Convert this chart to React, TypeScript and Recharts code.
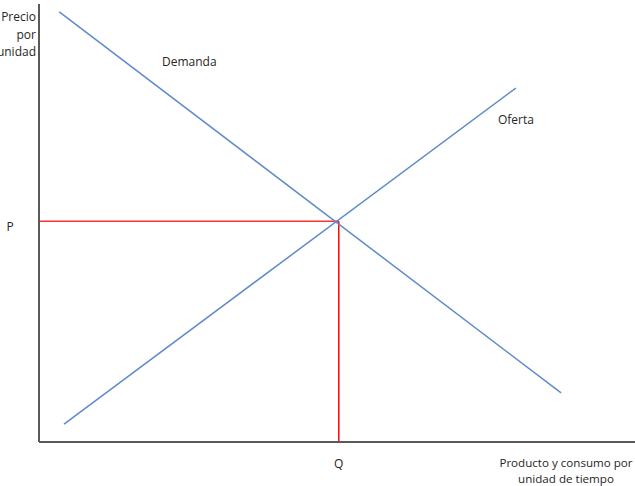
import React from "react";
import {
  ComposedChart,
  Line,
  XAxis,
  YAxis,
  ReferenceLine,
  Customized,
} from "recharts";

// quantities / prices in arbitrary units (0..100 on both axes)
const demandQty = [3.4, 87.6];
const demandPrice = [98.2, 11.2];
const supplyQty = [4.2, 80.0];
const supplyPrice = [4.1, 80.8];
const eqQty = 50.3;
const eqPrice = 50.4;

const demandData = demandQty.map((q, i) => ({ q, p: demandPrice[i] }));
const supplyData = supplyQty.map((q, i) => ({ q, p: supplyPrice[i] }));

const FONT = "'Open Sans', 'Liberation Sans', sans-serif";
const TEXT = "#262626";
const BLUE = "#5f8aca";
const AXIS = "#5a5a5a";

const XTick = (props: any) => {
  const { x, y } = props;
  return (
    <text x={x} y={y + 18} textAnchor="middle" fontSize={12} fill={TEXT} fontFamily={FONT}>
      Q
    </text>
  );
};

const YTick = (props: any) => {
  const { y } = props;
  return (
    <text x={10} y={y + 10} textAnchor="middle" fontSize={12} fill={TEXT} fontFamily={FONT}>
      P
    </text>
  );
};

const Labels = () => (
  <g fontFamily={FONT} fontSize={12} fill={TEXT}>
    <text x={36} y={21} textAnchor="end">Precio</text>
    <text x={36} y={39} textAnchor="end">por</text>
    <text x={36} y={56} textAnchor="end">unidad</text>
    <text x={162} y={66}>Demanda</text>
    <text x={498} y={124}>Oferta</text>
    <text x={566} y={467} textAnchor="middle" fontSize={11.6}>Producto y consumo por</text>
    <text x={566} y={483} textAnchor="middle" fontSize={11.6}>unidad de tiempo</text>
  </g>
);

export default function App() {
  return (
    <div style={{ position: "absolute", left: 0, top: 0, width: 635, height: 486, background: "#fff" }}>
      <ComposedChart width={635} height={486} margin={{ top: 4, right: 0, left: 0, bottom: 0 }}>
        <XAxis
          type="number"
          dataKey="q"
          domain={[0, 100]}
          ticks={[eqQty]}
          tick={<XTick />}
          tickLine={false}
          height={44}
          axisLine={{ stroke: AXIS, strokeWidth: 2 }}
          allowDataOverflow
        />
        <YAxis
          type="number"
          dataKey="p"
          domain={[0, 100]}
          ticks={[eqPrice]}
          tick={<YTick />}
          tickLine={false}
          width={39}
          axisLine={{ stroke: AXIS, strokeWidth: 2 }}
          allowDataOverflow
        />
        <ReferenceLine
          segment={[{ x: 0, y: eqPrice }, { x: eqQty, y: eqPrice }]}
          stroke="#ff3030"
          strokeWidth={1.5}
        />
        <ReferenceLine
          segment={[{ x: eqQty, y: eqPrice }, { x: eqQty, y: 0 }]}
          stroke="#ff0000"
          strokeWidth={1.5}
        />
        <Line
          data={demandData}
          dataKey="p"
          type="linear"
          stroke={BLUE}
          strokeWidth={1.5}
          dot={false}
          isAnimationActive={false}
        />
        <Line
          data={supplyData}
          dataKey="p"
          type="linear"
          stroke={BLUE}
          strokeWidth={1.5}
          dot={false}
          isAnimationActive={false}
        />
        <Customized component={Labels} />
      </ComposedChart>
    </div>
  );
}
